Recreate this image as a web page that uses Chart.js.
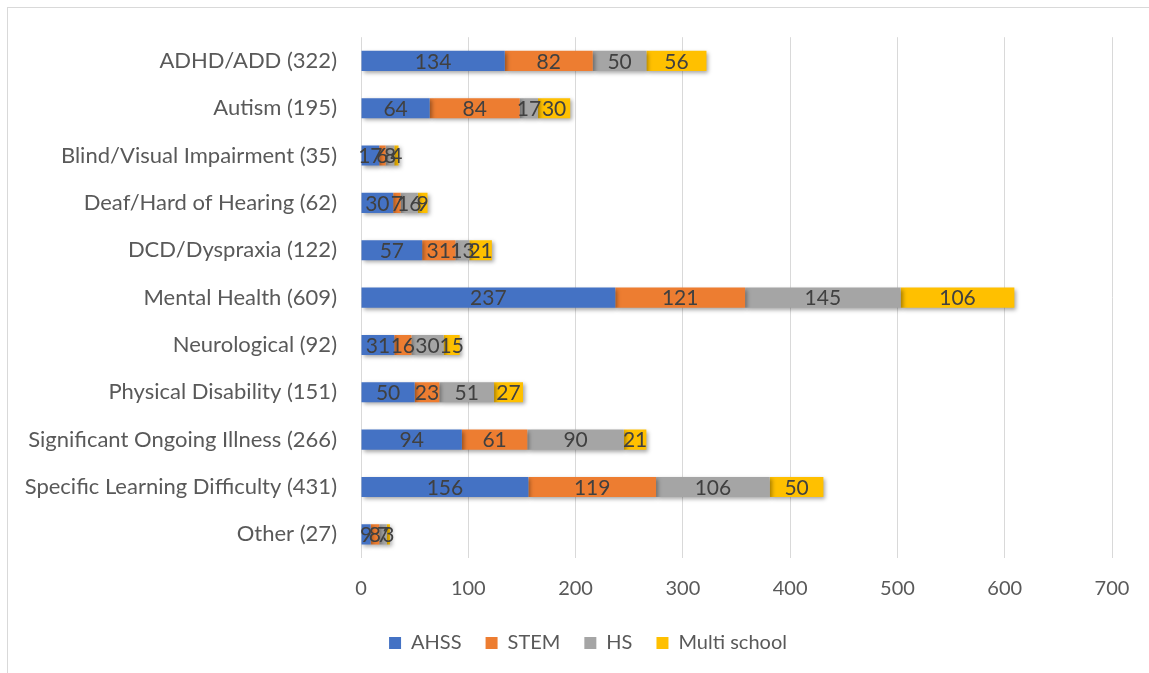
<!DOCTYPE html>
<html>
<head>
<meta charset="utf-8">
<script src="https://cdn.jsdelivr.net/npm/chart.js@4"></script>
<style>
  html, body { margin: 0; padding: 0; background: #fff; }
  #wrap { position: relative; width: 1149px; height: 673px; overflow: hidden; }
  #frame { position: absolute; left: 7px; top: 7px; width: 1160px; height: 700px; border: 1px solid #d9d9d9; box-sizing: border-box; }
  canvas { position: absolute; left: 0; top: 0; }
</style>
</head>
<body>
<div id="wrap">
  <div id="frame"></div>
  <canvas id="myChart" width="1149" height="673"></canvas>
</div>
<script>
const categories = [
  "ADHD/ADD (322)",
  "Autism (195)",
  "Blind/Visual Impairment (35)",
  "Deaf/Hard of Hearing (62)",
  "DCD/Dyspraxia (122)",
  "Mental Health (609)",
  "Neurological (92)",
  "Physical Disability (151)",
  "Significant Ongoing Illness (266)",
  "Specific Learning Difficulty (431)",
  "Other (27)",
];
const ahss = [134, 64, 17, 30, 57, 237, 31, 50, 94, 156, 9];
const stem = [82, 84, 6, 7, 31, 121, 16, 23, 61, 119, 8];
const hs = [50, 17, 8, 16, 13, 145, 30, 51, 90, 106, 7];
const multiSchool = [56, 30, 4, 9, 21, 106, 15, 27, 21, 50, 3];
const xTicks = [0, 100, 200, 300, 400, 500, 600, 700];

const FONT = "Lato";

// draws a soft shadow under the bars and the value labels on top
const barExtras = {
  id: "barExtras",
  beforeDraw(chart) {
    // legend in the original sits a little right of the canvas centre
    chart.legend.left = 64;
  },
  beforeDatasetsDraw(chart) {
    const ctx = chart.ctx;
    ctx.save();
    ctx.shadowColor = "rgba(0,0,0,0.35)";
    ctx.shadowBlur = 4;
    ctx.shadowOffsetX = 2;
    ctx.shadowOffsetY = 2;
  },
  afterDatasetsDraw(chart) {
    const ctx = chart.ctx;
    ctx.restore();
    ctx.save();
    ctx.font = "21px " + FONT;
    ctx.fillStyle = "#404040";
    ctx.textAlign = "center";
    ctx.textBaseline = "middle";
    chart.data.datasets.forEach((ds, i) => {
      chart.getDatasetMeta(i).data.forEach((bar, j) => {
        const x = (bar.x + bar.base) / 2;
        ctx.fillText(String(ds.data[j]), x, bar.y + 1);
      });
    });
    ctx.restore();
  },
};

const ctx = document.getElementById("myChart");
new Chart(ctx, {
  type: "bar",
  data: {
    labels: categories,
    datasets: [
      { label: "AHSS", data: ahss, backgroundColor: "#4472C4" },
      { label: "STEM", data: stem, backgroundColor: "#ED7D31" },
      { label: "HS", data: hs, backgroundColor: "#A5A5A5" },
      { label: "Multi school", data: multiSchool, backgroundColor: "#FFC000" },
    ],
  },
  options: {
    indexAxis: "y",
    responsive: false,
    animation: false,
    devicePixelRatio: 1,
    categoryPercentage: 0.5,
    barPercentage: 0.85,
    layout: { padding: { top: 36, right: 37, left: 0, bottom: 10 } },
    scales: {
      x: {
        stacked: true,
        min: 0,
        max: 700,
        afterBuildTicks(scale) {
          scale.ticks = xTicks.map((v) => ({ value: v }));
        },
        afterFit(scale) {
          scale.height = 51;
        },
        grid: { color: "#d9d9d9", drawTicks: false },
        border: { display: false },
        ticks: {
          color: "#595959",
          font: { family: FONT, size: 20 },
          padding: 19,
        },
      },
      y: {
        stacked: true,
        afterFit(scale) {
          scale.width = 361;
        },
        grid: { display: false, drawTicks: false },
        border: { display: false },
        ticks: {
          color: "#595959",
          font: { family: FONT, size: 22 },
          padding: 24,
        },
      },
    },
    plugins: {
      tooltip: { enabled: false },
      legend: {
        position: "bottom",
        labels: {
          color: "#595959",
          font: { family: FONT, size: 20 },
          boxWidth: 12,
          boxHeight: 12,
          padding: 24,
        },
      },
    },
  },
  plugins: [barExtras],
});
</script>
</body>
</html>
